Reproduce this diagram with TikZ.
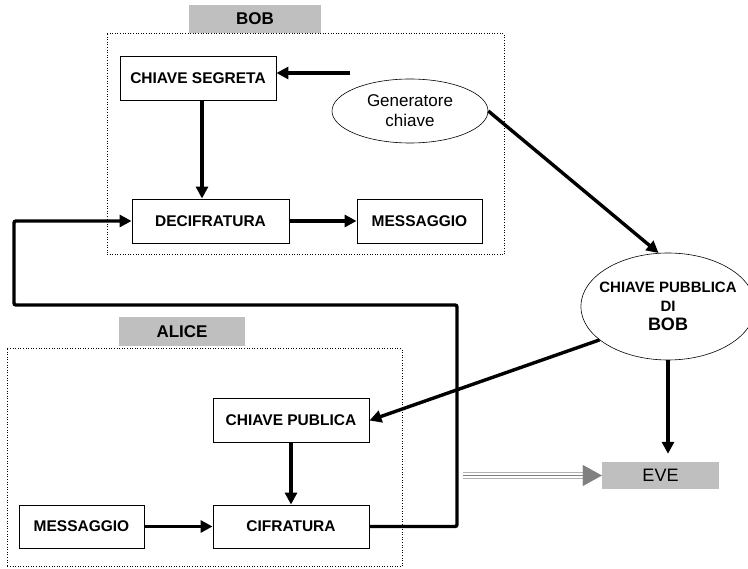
\documentclass[tikz,border=0pt]{standalone}
\usepackage{fontspec}
\setmainfont{Liberation Sans}
\usetikzlibrary{arrows.meta,shapes.geometric}

\tikzset{
  frame/.style={line width=1pt, dash pattern={on 1pt off 1.6pt}},
  title box/.style={fill=gray!50, inner sep=0pt, font=\fontsize{17}{19}\selectfont\bfseries},
  box/.style={draw, line width=0.9pt, minimum height=44pt, inner sep=0pt, font=\fontsize{15.5}{17}\selectfont\bfseries},
  oval/.style={ellipse, draw, line width=0.6pt, inner sep=0pt, align=center},
  arr/.style={line width=3.4pt, -{Triangle[length=12pt,width=12pt]}},
}

\begin{document}
\begin{tikzpicture}[x=1pt,y=1pt,yscale=-1,xscale=1]
\useasboundingbox (0,0) rectangle (748,569);

%Shape: Rectangle [BOB frame]
\draw [frame] (107,34) rectangle (504,255);
%Shape: Rectangle [ALICE frame]
\draw [frame] (7,349) rectangle (402,567);

% Text Node
\node [title box, minimum width=132pt, minimum height=28pt] (bobTitle) at (255,19) {BOB};
% Text Node
\node [title box, minimum width=126pt, minimum height=29pt] (aliceTitle) at (182,331.5) {ALICE};
% Text Node
\node [title box, minimum width=117pt, minimum height=27pt, font=\fontsize{18}{20}\selectfont] (eve) at (660.5,475.5) {EVE};

%Shape: Rectangle
\node [box, minimum width=156pt] (chiaveSegreta) at (198,78) {CHIAVE SEGRETA};
\node [box, minimum width=157pt] (decifratura) at (210.5,221) {DECIFRATURA};
\node [box, minimum width=125pt] (messaggioBob) at (419.5,221) {MESSAGGIO};
\node [box, minimum width=156pt] (chiavePublica) at (291,420.5) {CHIAVE PUBLICA};
\node [box, minimum width=156pt, minimum height=43pt] (cifratura) at (291,526.5) {CIFRATURA};
\node [box, minimum width=125pt, minimum height=43pt] (messaggioAlice) at (81.5,526.5) {MESSAGGIO};

%Shape: Ellipse
\node [oval, minimum width=156pt, minimum height=64pt, font=\fontsize{17}{20}\selectfont] (generatore) at (410,111) {Generatore\\chiave};
%Shape: Ellipse
\node [oval, inner xsep=-7pt, minimum width=158pt, minimum height=107pt, font=\fontsize{15}{19}\selectfont\bfseries] (pubBob) at (668,306.5)
  {CHIAVE PUBBLICA\\DI\\{\fontsize{18}{19}\selectfont BOB}};

\coordinate (genTail) at (350,73);
\coordinate (loopR) at (457,305);
\coordinate (loopL) at (14,305);
\coordinate (eveTail) at ([xshift=-139pt]eve.west);

%Straight Lines
\draw [arr] (genTail) -- (genTail -| chiaveSegreta.east);
\draw [arr] ([xshift=4pt]chiaveSegreta.south) -- ([xshift=4pt]chiaveSegreta.south |- decifratura.north);
\draw [arr] (decifratura.east) -- (messaggioBob.west);
\draw [arr] (generatore.east) -- (pubBob.100);
\draw [arr] (pubBob.206) -- (chiavePublica.east);
\draw [arr, shorten >=8pt] (pubBob.south) -- (pubBob.south |- eve.north);
\draw [arr] (chiavePublica.south) -- (cifratura.north);
\draw [arr] (messaggioAlice.east) -- (cifratura.west);
%Polyline
\draw [arr, rounded corners=2pt] (cifratura.east) -| (loopR) -- (loopL) |- (decifratura.west);

%Gray arrow to EVE
\foreach \dy in {-3,3}
  \draw [gray!60, line width=1.4pt] ([yshift=\dy pt]eveTail) -- ([yshift=\dy pt, xshift=-10pt]eve.west);
\draw [gray, line width=1.4pt] (eveTail) -- ([xshift=-10pt]eve.west);
\draw [gray, line width=0.1pt, -{Triangle[length=19pt,width=21pt]}] ([xshift=-19pt]eve.west) -- (eve.west);

\end{tikzpicture}
\end{document}
